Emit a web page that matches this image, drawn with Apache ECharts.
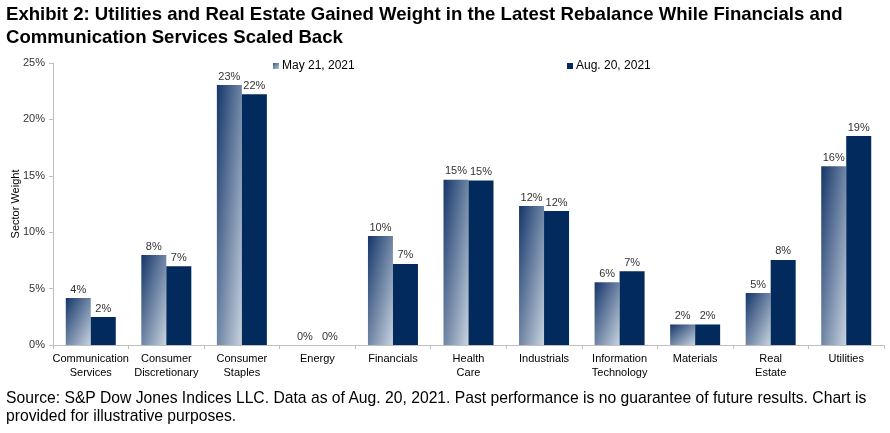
<!DOCTYPE html>
<html>
<head>
<meta charset="utf-8">
<script src="https://cdn.jsdelivr.net/npm/echarts@6/dist/echarts.min.js"></script>
<style>
  html, body { margin: 0; padding: 0; background: #fff; }
  #wrap { position: relative; width: 890px; height: 433px; font-family: "Liberation Sans", Arial, sans-serif; }
  #title { position: absolute; left: 6px; top: 2px; font-size: 18.6px; font-weight: bold; line-height: 23px; color: #000; white-space: nowrap; }
  #chart { position: absolute; left: 0; top: 0; width: 890px; height: 433px; }
  #source { position: absolute; left: 6px; top: 389px; font-size: 15.7px; line-height: 18px; color: #000; white-space: nowrap; }
</style>
</head>
<body>
<div id="wrap">
  <div id="chart"></div>
  <div id="title">Exhibit 2: Utilities and Real Estate Gained Weight in the Latest Rebalance While Financials and<br>Communication Services Scaled Back</div>
  <div id="source">Source: S&amp;P Dow Jones Indices LLC. Data as of Aug. 20, 2021. Past performance is no guarantee of future results. Chart is<br>provided for illustrative purposes.</div>
</div>
<script>
const categories = ['Communication\nServices', 'Consumer\nDiscretionary', 'Consumer\nStaples', 'Energy', 'Financials', 'Health\nCare', 'Industrials', 'Information\nTechnology', 'Materials', 'Real\nEstate', 'Utilities'];
const seriesNames = ['May 21, 2021', 'Aug. 20, 2021'];
const may2021 = [4.16, 7.98, 23.04, 0, 9.66, 14.64, 12.32, 5.57, 1.82, 4.6, 15.85];
const aug2021 = [2.48, 6.98, 22.22, 0, 7.19, 14.59, 11.87, 6.54, 1.82, 7.54, 18.53];
const yTicks = { min: 0, max: 25, interval: 5 };

const chart = echarts.init(document.getElementById('chart'), null, { renderer: 'canvas' });
const font = '"Liberation Sans", Arial, sans-serif';
const BAR_W = 25;
const PLOT_H = 433 - 63 - 88;
// Excel-like "stretched" diagonal gradient: t = (u + v) / 2 in the bar's unit square
function mayGradient(value) {
  const h = Math.max(1, value / yTicks.max * PLOT_H);
  const w = BAR_W;
  const s = h * h + w * w;
  const dx = 2 * h * h / s, dy = 2 * w * w / s;
  return new echarts.graphic.LinearGradient(0, 0, dx, dy, [
    { offset: 0, color: '#15366a' },
    { offset: 1, color: '#c8d3df' }
  ]);
}
const legendMayColor = new echarts.graphic.LinearGradient(0, 0, 1, 1, [
  { offset: 0, color: '#3a5a86' }, { offset: 1, color: '#b8c5d4' }
]);
const augColor = '#022a5c';
const labelCfg = {
  show: true, position: 'top', distance: 3,
  fontSize: 11, color: '#333', fontFamily: font,
  formatter: p => Math.round(p.value) + '%'
};
chart.setOption({
  animation: false,
  textStyle: { fontFamily: font },
  grid: { left: 53, right: 6, top: 63, bottom: 88, containLabel: false, outerBoundsMode: 'none' },
  legend: [
    { data: [{ name: seriesNames[0], itemStyle: { color: legendMayColor } }], left: 268, top: 55, itemWidth: 6, itemHeight: 6, icon: 'rect', itemGap: 4,
      textStyle: { fontSize: 12, color: '#000', fontFamily: font, padding: [0, 0, 0, -2] } },
    { data: [seriesNames[1]], left: 562, top: 55, itemWidth: 6, itemHeight: 6, icon: 'rect',
      textStyle: { fontSize: 12, color: '#000', fontFamily: font, padding: [0, 0, 0, -2] } }
  ],
  xAxis: {
    type: 'category',
    data: categories,
    axisLine: { lineStyle: { color: '#bfbfbf' } },
    axisTick: { show: true, length: 4, lineStyle: { color: '#bfbfbf' } },
    axisLabel: { fontSize: 11, color: '#000', lineHeight: 14, margin: 7, interval: 0, fontFamily: font }
  },
  yAxis: {
    type: 'value',
    min: yTicks.min, max: yTicks.max, interval: yTicks.interval,
    name: 'Sector Weight', nameLocation: 'middle', nameGap: 32, nameRotate: 90, nameMoveOverlap: false,
    nameTextStyle: { fontSize: 11, color: '#000', fontFamily: font },
    splitLine: { show: false },
    axisLine: { show: true, lineStyle: { color: '#bfbfbf' } },
    axisTick: { show: true, length: 4, lineStyle: { color: '#bfbfbf' } },
    axisLabel: { fontSize: 11, color: '#333', margin: 8, formatter: '{value}%', fontFamily: font }
  },
  series: [
    { name: seriesNames[0], type: 'bar', barWidth: BAR_W, barGap: '0%',
      data: may2021.map(v => ({ value: v, itemStyle: { color: mayGradient(v) } })),
      itemStyle: { color: legendMayColor }, label: labelCfg },
    { name: seriesNames[1], type: 'bar', data: aug2021, barWidth: BAR_W,
      itemStyle: { color: augColor }, label: labelCfg }
  ]
});
</script>
</body>
</html>
